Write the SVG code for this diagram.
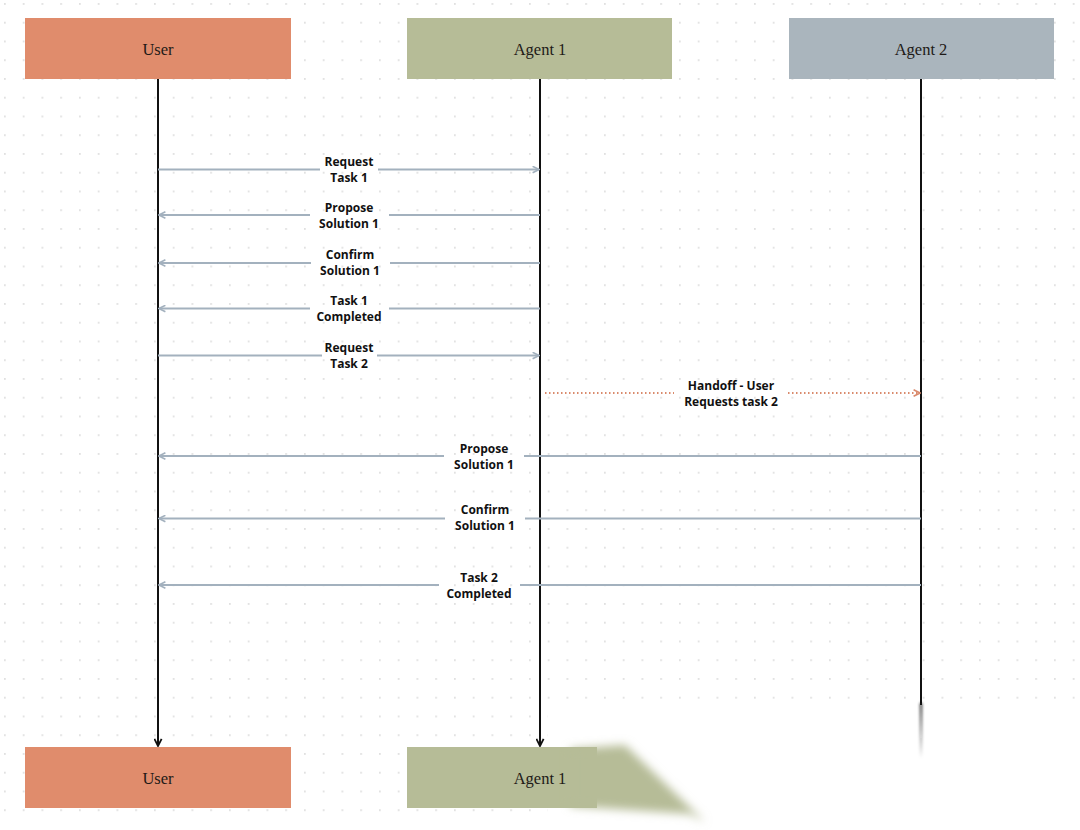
<svg xmlns="http://www.w3.org/2000/svg" width="1080" height="830" viewBox="0 0 1080 830">
<style>
.box-label{font-family:"Liberation Serif","Times New Roman",serif;font-size:16.5px;fill:#1e1a17;text-anchor:middle;dominant-baseline:central}
.msg{font-family:"Open Sans","Noto Sans",sans-serif;font-size:12px;font-weight:700;fill:#111;text-anchor:middle}
.life{stroke:#111;stroke-width:2;fill:none}
.conn{stroke:#a3b1be;stroke-width:2;fill:none}
.handoff{stroke:#d98a6c;stroke-width:2;stroke-dasharray:1.5 2.5;fill:none}
</style>
<defs>
<pattern id="dots" x="4" y="3" width="18.75" height="18.75" patternUnits="userSpaceOnUse">
<circle cx="0.9" cy="0.9" r="0.9" fill="#d6d6d6"/>
</pattern>
<marker id="arrBlue" viewBox="0 0 10 10" refX="9" refY="5" markerWidth="8" markerHeight="8" markerUnits="userSpaceOnUse" orient="auto">
<path d="M1 1 L9 5 L1 9" fill="none" stroke="#a3b1be" stroke-width="2"/>
</marker>
<marker id="arrOrange" viewBox="0 0 10 10" refX="9" refY="5" markerWidth="8" markerHeight="8" markerUnits="userSpaceOnUse" orient="auto">
<path d="M1 1 L9 5 L1 9" fill="none" stroke="#d98a6c" stroke-width="2"/>
</marker>
<marker id="arrBlack" viewBox="0 0 10 10" refX="9" refY="5" markerWidth="9" markerHeight="9" markerUnits="userSpaceOnUse" orient="auto">
<path d="M1 1 L9 5 L1 9" fill="none" stroke="#111" stroke-width="2"/>
</marker>
<linearGradient id="fadeLine" x1="0" y1="0" x2="0" y2="1">
<stop offset="0" stop-color="#111"/>
<stop offset="1" stop-color="#111" stop-opacity="0"/>
</linearGradient>
<filter id="blur" x="-50%" y="-50%" width="200%" height="200%">
<feGaussianBlur stdDeviation="5"/>
</filter>
<filter id="blurS" x="-200%" y="-50%" width="500%" height="200%">
<feGaussianBlur stdDeviation="1.5"/>
</filter>
</defs>
<rect width="1080" height="830" fill="#ffffff"/>
<rect width="1080" height="830" fill="url(#dots)"/>
<rect x="548" y="706" width="532" height="124" fill="#ffffff"/>
<rect x="0" y="815" width="1080" height="15" fill="#ffffff"/>

<g id="lifelines">
<line class="life" x1="158" y1="79" x2="158" y2="746" marker-end="url(#arrBlack)"/>
<line class="life" x1="540" y1="79" x2="540" y2="746" marker-end="url(#arrBlack)"/>
<line class="life" x1="921" y1="79" x2="921" y2="705"/>
<rect x="920" y="703" width="2" height="55" fill="url(#fadeLine)" filter="url(#blurS)"/>
</g>

<g id="node-user-top">
<rect x="25" y="18" width="266" height="61" fill="#e08c6c"/>
<text class="box-label" x="158" y="49">User</text>
</g>
<g id="node-agent1-top">
<rect x="407" y="18" width="265" height="61" fill="#b6bc97"/>
<text class="box-label" x="540" y="49">Agent 1</text>
</g>
<g id="node-agent2-top">
<rect x="789" y="18" width="265" height="61" fill="#aab5bd"/>
<text class="box-label" x="921" y="49">Agent 2</text>
</g>
<g id="node-user-bottom">
<rect x="25" y="747" width="266" height="61" fill="#e08c6c"/>
<text class="box-label" x="158" y="778">User</text>
</g>
<g id="node-agent1-bottom">
<rect x="407" y="747" width="190" height="61" fill="#b6bc97"/>
<polygon points="570,749 625,745 705,822 690,814 570,806" fill="#b6bc97" filter="url(#blur)"/>
<text class="box-label" x="540" y="778">Agent 1</text>
</g>

<g id="connectors">
<path class="conn" d="M158 169.5 H320 M378 169.5 H539" marker-end="url(#arrBlue)"/>
<path class="conn" d="M540 215 H389 M310 215 H159" marker-end="url(#arrBlue)"/>
<path class="conn" d="M540 263 H390 M311 263 H159" marker-end="url(#arrBlue)"/>
<path class="conn" d="M540 308.5 H389 M310 308.5 H159" marker-end="url(#arrBlue)"/>
<path class="conn" d="M158 355.5 H322 M377 355.5 H539" marker-end="url(#arrBlue)"/>
<path class="handoff" d="M545 393 H674 M788 393 H920" marker-end="url(#arrOrange)"/>
<path class="conn" d="M921 456 H524 M444 456 H159" marker-end="url(#arrBlue)"/>
<path class="conn" d="M921 518.5 H525 M445 518.5 H159" marker-end="url(#arrBlue)"/>
<path class="conn" d="M921 585 H520 M439 585 H159" marker-end="url(#arrBlue)"/>
</g>

<g id="labels">
<text class="msg" x="349" y="166">Request</text>
<text class="msg" x="349" y="182">Task 1</text>
<text class="msg" x="349" y="212">Propose</text>
<text class="msg" x="349" y="228">Solution 1</text>
<text class="msg" x="350" y="259">Confirm</text>
<text class="msg" x="350" y="275">Solution 1</text>
<text class="msg" x="349" y="305">Task 1</text>
<text class="msg" x="349" y="321">Completed</text>
<text class="msg" x="349" y="352">Request</text>
<text class="msg" x="349" y="368">Task 2</text>
<text class="msg" x="731" y="390">Handoff - User</text>
<text class="msg" x="731" y="406">Requests task 2</text>
<text class="msg" x="484" y="453">Propose</text>
<text class="msg" x="484" y="469">Solution 1</text>
<text class="msg" x="485" y="514">Confirm</text>
<text class="msg" x="485" y="530">Solution 1</text>
<text class="msg" x="479" y="582">Task 2</text>
<text class="msg" x="479" y="598">Completed</text>
</g>
</svg>
